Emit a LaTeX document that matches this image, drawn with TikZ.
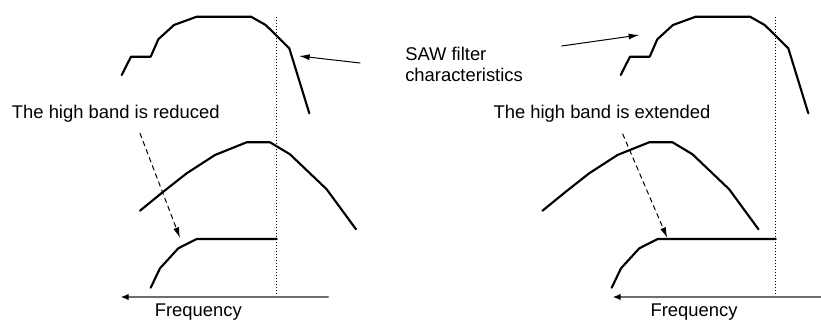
\documentclass[tikz,border=0pt]{standalone}
\usepackage{fontspec}
\setsansfont{Liberation Sans}
\usetikzlibrary{arrows.meta}
\definecolor{axisgray}{HTML}{6E6E6E}
\newcommand{\sawshape}[1]{%
  \draw[curve,shift={(#1,0)}] (121.7,75) -- (131,56.7) -- (150.7,56.7) -- (158.3,39.3)
    -- (174,25) -- (196.7,16.7) -- (251,16.7) -- (265.7,25) -- (289.3,48.3) -- (309.3,113.3);
}
\newcommand{\bandshape}[1]{%
  \draw[curve,shift={(#1,0)}] (140,210.7) -- (163.3,191.7) -- (186.7,173.3) -- (215,155)
    -- (246.7,142.3) -- (270,142.3) -- (290,154.3) -- (326.7,189.3) -- (356,229.3);
}

\begin{document}
\begin{tikzpicture}[x=0.75pt,y=-0.75pt,line cap=round,line join=round,
    font=\sffamily\fontsize{13.8}{15.75}\selectfont,
    curve/.style={line width=1.6pt},
    guide/.style={line width=0.7pt,line cap=butt,dash pattern=on 0.75pt off 1.5pt},
    freqaxis/.style={axisgray,line width=1.1pt,-{Latex[length=6pt,width=5pt,color=black]}},
    pointer/.style={line width=0.75pt,-{Latex[length=8pt,width=4.5pt]}},
    hint/.style={line width=0.75pt,dash pattern=on 3.5pt off 3pt,-{Latex[length=8pt,width=4.5pt]}},
    note/.style={inner sep=0pt}]
  \path[use as bounding box] (0,0) rectangle (821,320);

  % two panels: filter curve, response, result, cut-off line and axis
  \foreach \t/\m/\b/\g/\ax/\ay/\fx [count=\k] in
      {0/0/0/276.7/328.3/120.7/198.3, 499/402.5/461/775.7/821/612.7/694}{
    \sawshape{\t}
    \bandshape{\m}
    \draw[curve] (150.7+\b,287.7) -- (160+\b,268.3) -- (178.3+\b,248.3) -- (196.7+\b,239) -- (\g,239);
    \draw[guide] (\g,17) -- (\g,297);
    \draw[freqaxis] (\ax,297) -- (\ay,297);
    \node[note,anchor=base] (freq\k) at (\fx,316) {Frequency};
  }

  \node[note,anchor=north west,align=left] (saw) at (405,47) {SAW filter\\characteristics};
  \node[note,anchor=base west] (reduced) at (11.7,119) {The high band is reduced};
  \node[note,anchor=base west] (extended) at (493.3,119) {The high band is extended};

  \coordinate (sawtailL) at (360,63);
  \coordinate (sawtipL) at (299,56);
  \coordinate (sawtailR) at (561.7,46);
  \coordinate (sawtipR) at (639.3,35);
  \draw[pointer] (sawtailL) -- (sawtipL);
  \draw[pointer] (sawtailR) -- (sawtipR);

  \coordinate (cutL) at (140,133.3);
  \coordinate (cutLend) at (180,238);
  \coordinate (cutR) at (622.7,134);
  \coordinate (cutRend) at (667.3,238);
  \draw[hint] (cutL) -- (cutLend);
  \draw[hint] (cutR) -- (cutRend);
\end{tikzpicture}
\end{document}
